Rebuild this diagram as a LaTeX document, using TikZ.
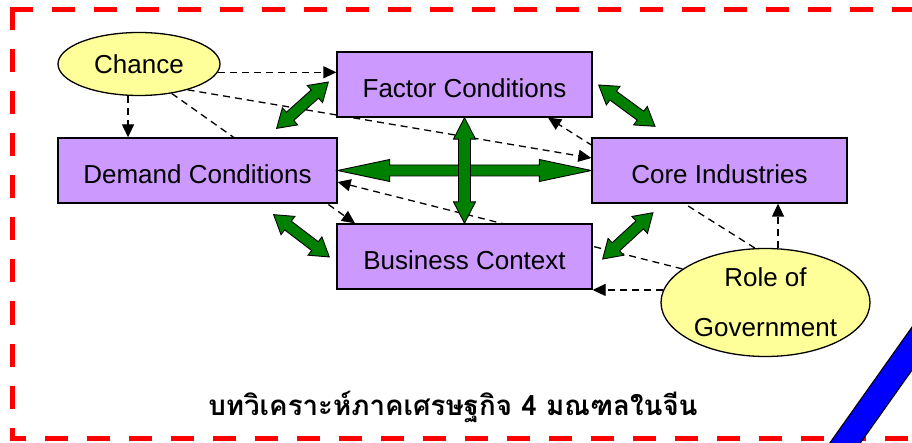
\documentclass[tikz,border=0pt]{standalone}
\usepackage{fontspec}
\setmainfont{Liberation Sans}
\newfontfamily\thaifont[Script=Thai]{Loma}
\usetikzlibrary{shapes.geometric,arrows.meta,calc,backgrounds}

\definecolor{boxpurple}{RGB}{204,153,255}
\definecolor{ovalyellow}{RGB}{255,255,153}
\definecolor{arrowgreen}{RGB}{0,128,0}
\definecolor{framered}{RGB}{255,0,0}
\definecolor{bandblue}{RGB}{0,0,255}

\tikzset{
  factorbox/.style={rectangle, draw=black, line width=1.3pt, fill=boxpurple,
    minimum height=65pt, inner sep=0pt, text height=26pt, text depth=0pt,
    font=\fontsize{26}{30}\selectfont},
  oval/.style={ellipse, draw=black, line width=1.3pt, fill=ovalyellow,
    inner sep=0pt, font=\fontsize{26}{30}\selectfont},
  dashlink/.style={draw=black, line width=1.3pt, dash pattern=on 7pt off 5pt,
    -{Triangle[length=13pt,width=12pt]}},
  frameline/.style={draw=framered, line width=5pt, dash pattern=on 23pt off 19pt},
  greenarrow/.style={fill=arrowgreen, draw=black, line width=0.9pt, line join=miter},
}

% double-headed block arrow between two points:
% #1, #2 end points; #3 shaft half width; #4 head half width; #5 head length
\newcommand\blockarrow[5]{%
  \path[greenarrow] let \p1=(#1), \p2=(#2),
      \n1={atan2(\y2-\y1,\x2-\x1)}, \n2={veclen(\x2-\x1,\y2-\y1)} in
    [shift={(\p1)}, rotate=\n1]
    (0,0) -- (#5,#4) -- (#5,#3) -- (\n2-#5,#3) -- (\n2-#5,#4) -- (\n2,0)
    -- (\n2-#5,-#4) -- (\n2-#5,-#3) -- (#5,-#3) -- (#5,-#4) -- cycle;
}

\begin{document}
\begin{tikzpicture}[x=1pt,y=-1pt]
\useasboundingbox (0,0) rectangle (912,443);
\clip (0,0) rectangle (912,443);

% the five factors of the diamond
\node[factorbox, minimum width=255pt] (factor)   at (464.5,84.5)  {Factor Conditions};
\node[factorbox, minimum width=279pt] (demand)   at (197.5,170.5) {Demand Conditions};
\node[factorbox, minimum width=255pt] (core)     at (719.5,170.5) {Core Industries};
\node[factorbox, minimum width=255pt] (business) at (464.5,256.5) {Business Context};

% the two outside influences
\node[oval, minimum width=162pt, minimum height=63pt] (chance) at (139,64) {Chance};
\node[oval, minimum width=209pt, minimum height=108pt, align=center,
      font=\fontsize{26}{50}\selectfont] (gov) at (765.5,302.5) {Role of\\Government};

% caption
\node[font=\thaifont\bfseries\fontsize{27.7}{32}\selectfont, anchor=base] (caption) at (453,415)
  {บทวิเคราะห์ภาคเศรษฐกิจ 4 มณฑลในจีน};

\begin{pgfonlayer}{background}
  \fill[white] (0,0) rectangle (912,443);
  % red dashed frame
  \draw[frameline] (9.5,10) -- (960,10);
  \draw[frameline] (12,7.5) -- (12,440.5);
  \draw[frameline, dash phase=7pt] (9.5,438) -- (960,438);
  % influences of chance
  \draw[dashlink] (chance.-6.6) -- (chance.-6.6 -| factor.west);
  \draw[dashlink] (chance.-109.4) -- (chance.-109.4 |- demand.north);
  \draw[dashlink] (chance.-28) -- ([yshift=12.5pt]core.west);
  \draw[dashlink] (chance.-42) -- ([xshift=-109.5pt]business.north);
  % influences of government
  \draw[dashlink] (gov.77.9) -- (gov.77.9 |- core.south);
  \draw[dashlink] (gov.173.9) -- (gov.173.9 -| business.east);
  \draw[dashlink] (gov.158.8) -- ([yshift=-11.5pt]demand.east);
  \draw[dashlink] (gov.101) -- ([xshift=83.5pt]factor.south);
\end{pgfonlayer}

% mutual links between the factors
\coordinate (fdA) at ([shift={(-61,-9)}]demand.north east);
\coordinate (fdB) at ([shift={(-8,-2.5)}]factor.west);
\coordinate (fcA) at ([shift={(6,0.5)}]factor.east);
\coordinate (fcB) at ([shift={(-64.5,-11)}]core.north);
\coordinate (dbA) at ([shift={(-64,11)}]demand.south east);
\coordinate (dbB) at ([shift={(-7,0.5)}]business.west);
\coordinate (bcA) at ([shift={(10,2.5)}]business.east);
\coordinate (bcB) at ([shift={(-66.5,9)}]core.south);

\blockarrow{fdA}{fdB}{5.5}{11.5}{18}
\blockarrow{fcA}{fcB}{5.5}{11.5}{18}
\blockarrow{dbA}{dbB}{5.5}{11.5}{18}
\blockarrow{bcA}{bcB}{5.5}{11.5}{18}
\blockarrow{demand.east}{core.west}{5.5}{11}{52}
\blockarrow{factor.south}{business.north}{6}{11}{21.5}

% blue band across the lower right corner
\draw[black, line width=26pt] (825.9,470) -- (950,295);
\draw[bandblue, line width=23.5pt] (825.9,470) -- (950,295);
\end{tikzpicture}
\end{document}
